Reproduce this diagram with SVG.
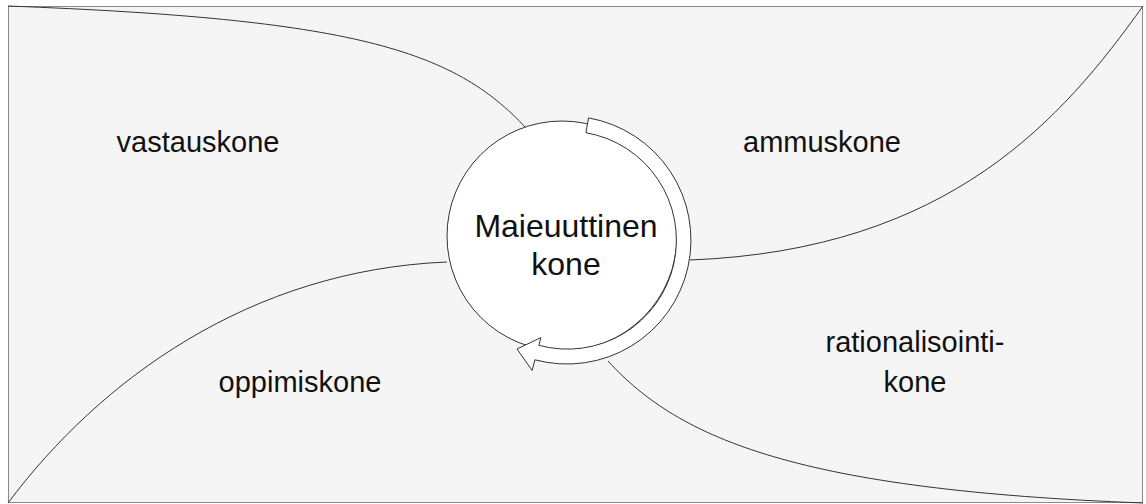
<svg xmlns="http://www.w3.org/2000/svg" width="1146" height="504" viewBox="0 0 1146 504">
<style>
.frame{fill:#f5f5f5;stroke:#8a8a8a;stroke-width:1}
.conn{fill:none;stroke:#333;stroke-width:1}
.node{fill:#fff;stroke:#333;stroke-width:1}
.lbl{font-family:"Liberation Sans",Arial,sans-serif;font-size:29px;fill:#111;text-anchor:middle}
.big{font-size:32px}
</style>
<rect class="frame" x="8.5" y="6.5" width="1134" height="496"/>
<g id="connectors">
<path class="conn" d="M 8 6 C 351 19, 453 49, 526 128"/>
<path class="conn" d="M 1143 6 C 1063 118, 950 250, 690 260"/>
<path class="conn" d="M 8 503 C 100 380, 250 270, 447 262"/>
<path class="conn" d="M 608 361 C 680 440, 800 490, 1143 503"/>
</g>
<g id="center-node">
<circle class="node" cx="562" cy="236" r="115"/>
<path class="node" d="M 588.5 117.9 A 124 124 0 1 1 534.9 359.8 L 532.1 370.4 L 517 349 L 540.9 337.6 L 538.8 345.3 A 109 109 0 1 0 585.9 132.7 Z"/>
<text class="lbl big" x="566" y="237">Maieuuttinen</text>
<text class="lbl big" x="566" y="275">kone</text>
</g>
<g id="vastauskone"><text class="lbl" x="198" y="152">vastauskone</text></g>
<g id="ammuskone"><text class="lbl" x="822" y="152">ammuskone</text></g>
<g id="oppimiskone"><text class="lbl" x="300" y="392">oppimiskone</text></g>
<g id="rationalisointikone"><text class="lbl" x="915" y="352">rationalisointi-</text><text class="lbl" x="915" y="392">kone</text></g>
</svg>
